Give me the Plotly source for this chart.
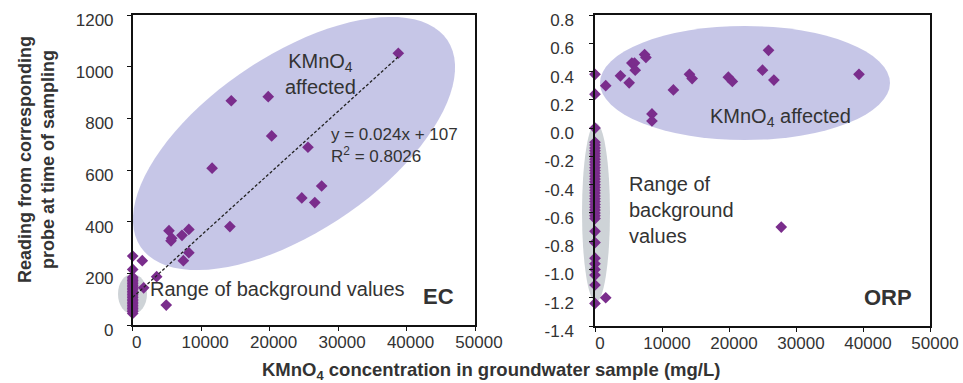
import math
import plotly.graph_objects as go

# ---------------- data ----------------
# EC panel (left)
ec_x = [38800, 14400, 19800, 20300, 25600, 11600, 24700, 26600, 27600, 14200,
        5300, 5600, 5700, 7200, 8200, 8200, 7400, 1400, 3500, 1600, 4900]
ec_y = [1052, 868, 884, 732, 688, 607, 492, 474, 538, 381,
        365, 326, 336, 347, 370, 280, 249, 249, 187, 144, 77]
ec_bg_y = [45, 52, 58, 64, 70, 76, 82, 88, 94, 100, 106, 112, 118, 124, 130,
           136, 142, 148, 154, 160, 166, 172, 178, 185, 215, 267]
ec_bg_x = [0] * len(ec_bg_y)
trend_slope = 0.024
trend_intercept = 107
trend_x = [0, 38800]

# ORP panel (right)
orp_x = [0, 0, 0, 1600, 3800, 5100, 5500, 5900, 6000, 7400, 7600, 8500, 8500,
         11700, 14100, 14500, 19900, 20500, 25000, 25900, 26700, 39400, 27800, 1600]
orp_y = [0.38, 0.24, 0.0, 0.30, 0.37, 0.32, 0.46, 0.46, 0.41, 0.52, 0.50, 0.10, 0.05,
         0.27, 0.38, 0.35, 0.36, 0.33, 0.41, 0.55, 0.34, 0.38, -0.70, -1.20]
orp_bg_y = [-0.10, -0.12, -0.14, -0.16, -0.18, -0.20, -0.22, -0.24, -0.26, -0.28,
            -0.30, -0.32, -0.34, -0.36, -0.38, -0.40, -0.42, -0.44, -0.46, -0.48,
            -0.50, -0.52, -0.54, -0.56, -0.58, -0.60, -0.62, -0.64, -0.73, -0.81,
            -0.92, -0.96, -1.00, -1.04, -1.11, -1.24]
orp_bg_x = [0] * len(orp_bg_y)

x_ticks = [0, 10000, 20000, 30000, 40000, 50000]
ec_ticks = [0, 200, 400, 600, 800, 1000, 1200]
orp_ticks = [-1.4, -1.2, -1.0, -0.8, -0.6, -0.4, -0.2, 0.0, 0.2, 0.4, 0.6, 0.8]
orp_ticktext = ["-1.4", "-1.2", "-1.0", "-0.8", "-0.6", "-0.4", "-0.2", "0.0", "0.2", "0.4", "0.6", "0.8"]

# ---------------- styling ----------------
W, H = 963, 383
FONT = "Liberation Sans, Arial, sans-serif"
TXT = "#333333"
PURPLE = "#7a2d8c"
LAVENDER = "rgba(192,192,228,0.9)"
GREY = "rgba(190,196,202,0.75)"


def pxx(x):
    return x / W


def pxy(y):
    return 1 - y / H


fig = go.Figure()

marker = dict(symbol="diamond", size=9, color=PURPLE)

fig.add_trace(go.Scatter(x=ec_x + ec_bg_x, y=ec_y + ec_bg_y, mode="markers",
                         marker=marker, cliponaxis=False, xaxis="x", yaxis="y",
                         showlegend=False))
fig.add_trace(go.Scatter(x=trend_x, y=[trend_slope * v + trend_intercept for v in trend_x],
                         mode="lines", line=dict(color="#222222", width=1.3, dash="3px,2px"),
                         xaxis="x", yaxis="y", showlegend=False))
fig.add_trace(go.Scatter(x=orp_x + orp_bg_x, y=orp_y + orp_bg_y, mode="markers",
                         marker=marker, cliponaxis=False, xaxis="x2", yaxis="y2",
                         showlegend=False))

# ---------------- shapes (ellipses, pixel-based) ----------------
shapes = []
cx, cy, a, b, th = 294, 143.5, 185, 88, math.radians(34)
pts = []
for i in range(90):
    t = 2 * math.pi * i / 90
    X = cx + a * math.cos(t) * math.cos(th) - b * math.sin(t) * math.sin(th)
    Y = cy - (a * math.cos(t) * math.sin(th) + b * math.sin(t) * math.cos(th))
    pts.append(f"{pxx(X):.5f},{pxy(Y):.5f}")
path = "M " + " L ".join(pts) + " Z"
shapes.append(dict(type="path", path=path, xref="paper", yref="paper",
                   fillcolor=LAVENDER, line=dict(width=0), layer="below"))
shapes.append(dict(type="circle", xref="paper", yref="paper",
                   x0=pxx(118), x1=pxx(147), y0=pxy(314), y1=pxy(274),
                   fillcolor=GREY, line=dict(width=0), layer="below"))
shapes.append(dict(type="circle", xref="paper", yref="paper",
                   x0=pxx(600), x1=pxx(890), y0=pxy(140), y1=pxy(26),
                   fillcolor=LAVENDER, line=dict(width=0), layer="below"))
shapes.append(dict(type="circle", xref="paper", yref="paper",
                   x0=pxx(582), x1=pxx(610), y0=pxy(302), y1=pxy(123),
                   fillcolor=GREY, line=dict(width=0), layer="below"))

# ---------------- annotations ----------------
ann = []


def text(x, y, s, size=16, bold=False, xanchor="center", align="center", angle=0):
    if bold:
        s = f"<b>{s}</b>"
    ann.append(dict(x=pxx(x), y=pxy(y), xref="paper", yref="paper", text=s,
                    showarrow=False, xanchor=xanchor, yanchor="middle", align=align,
                    textangle=angle, font=dict(family=FONT, size=size, color=TXT)))


text(320, 74, "KMnO<sub>4</sub><br>affected", size=20)
text(329, 145, "y = 0.024x + 107<br>R<sup>2</sup> = 0.8026", size=17, xanchor="left", align="left")
text(148, 289, "Range of background values", size=20, xanchor="left")
text(421, 296, "EC", size=22, bold=True, xanchor="left")
text(780, 117, "KMnO<sub>4</sub> affected", size=20)
text(627, 210, "Range of<br>background<br>values", size=20, xanchor="left", align="left")
text(862, 297, "ORP", size=22, bold=True, xanchor="left")
text(36, 160, "Reading from corresponding<br>probe at time of sampling", size=18, bold=True, angle=-90)
text(491, 371, "KMnO<sub>4</sub> concentration in groundwater sample (mg/L)", size=18.5, bold=True)

axis_common = dict(showline=True, mirror=True, linecolor="#111111", linewidth=1.5,
                   ticks="outside", ticklen=4, tickcolor="#111111", showgrid=False,
                   zeroline=False, automargin=False,
                   tickfont=dict(family=FONT, size=17, color=TXT))

fig.update_layout(
    width=W, height=H,
    margin=dict(l=0, r=0, t=0, b=0, autoexpand=False),
    paper_bgcolor="white", plot_bgcolor="rgba(0,0,0,0)",
    showlegend=False,
    shapes=shapes, annotations=ann,
    xaxis=dict(domain=[132.7 / W, 475 / W], range=[0, 50000], anchor="y",
               tickvals=x_ticks, tickformat="d", ticklabelstandoff=-3, ticklabelshift=4,
               **axis_common),
    yaxis=dict(domain=[1 - 325 / H, 1 - 15 / H], range=[0, 1200], anchor="x",
               tickvals=ec_ticks, ticklabelstandoff=10, ticklabelshift=5, **axis_common),
    xaxis2=dict(domain=[595 / W, 930 / W], range=[0, 50000], anchor="y2",
                tickvals=x_ticks, tickformat="d", ticklabelstandoff=-3, ticklabelshift=5,
                **axis_common),
    yaxis2=dict(domain=[1 - 326 / H, 1 - 15 / H], range=[-1.4, 0.8], anchor="x2",
                tickvals=orp_ticks, ticktext=orp_ticktext, ticklabelstandoff=12,
                ticklabelshift=5, **axis_common),
)

fig.write_html("out.html", config={"displayModeBar": False},
               post_script="document.body.style.margin='0px';document.body.style.overflow='hidden';")
